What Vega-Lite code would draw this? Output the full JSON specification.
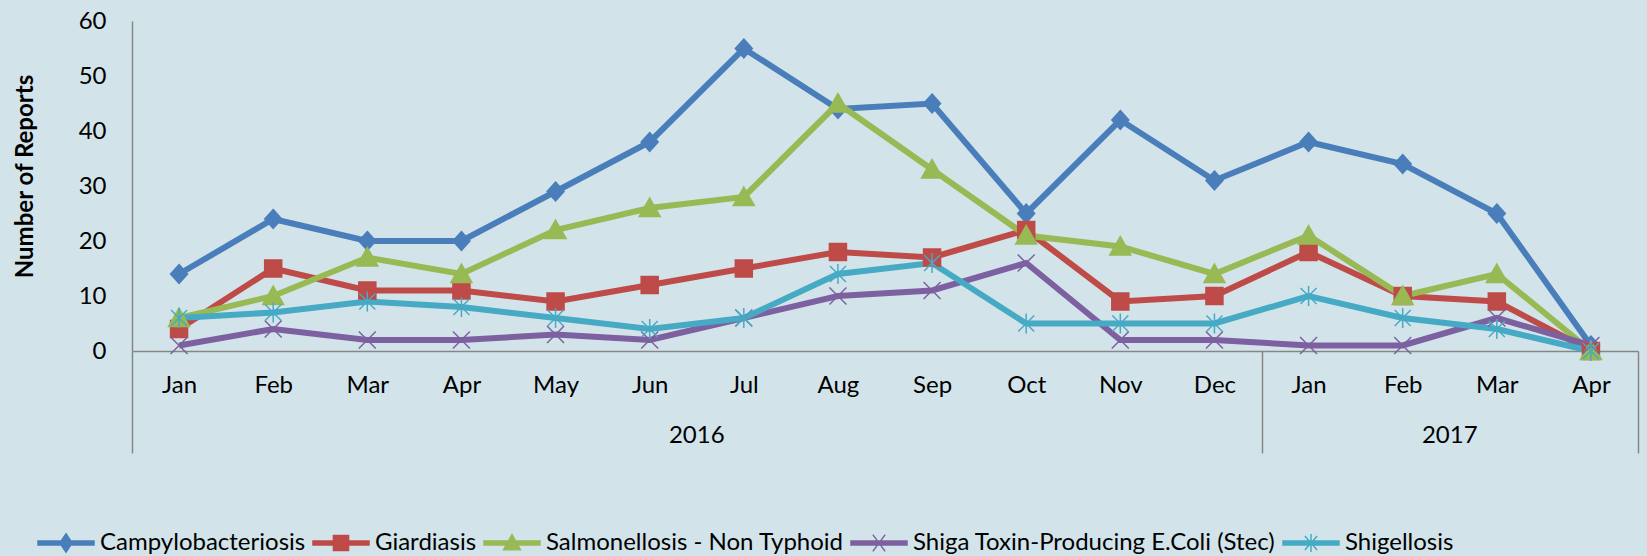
{
"$schema":"https://vega.github.io/schema/vega-lite/v6.json",
"width":1506,"height":330,
"autosize":"none",
"padding":{"left":132,"top":21,"right":9,"bottom":205},
"background":"#d2e4ea",
"config":{"view":{"stroke":null},"font":"Lato","text":{"font":"Lato"}},
"data":{"values":[
{"p":"2016 Jan","s":"Campylobacteriosis","v":14},{"p":"2016 Feb","s":"Campylobacteriosis","v":24},{"p":"2016 Mar","s":"Campylobacteriosis","v":20},{"p":"2016 Apr","s":"Campylobacteriosis","v":20},{"p":"2016 May","s":"Campylobacteriosis","v":29},{"p":"2016 Jun","s":"Campylobacteriosis","v":38},{"p":"2016 Jul","s":"Campylobacteriosis","v":55},{"p":"2016 Aug","s":"Campylobacteriosis","v":44},{"p":"2016 Sep","s":"Campylobacteriosis","v":45},{"p":"2016 Oct","s":"Campylobacteriosis","v":25},{"p":"2016 Nov","s":"Campylobacteriosis","v":42},{"p":"2016 Dec","s":"Campylobacteriosis","v":31},{"p":"2017 Jan","s":"Campylobacteriosis","v":38},{"p":"2017 Feb","s":"Campylobacteriosis","v":34},{"p":"2017 Mar","s":"Campylobacteriosis","v":25},{"p":"2017 Apr","s":"Campylobacteriosis","v":1},
{"p":"2016 Jan","s":"Giardiasis","v":4},{"p":"2016 Feb","s":"Giardiasis","v":15},{"p":"2016 Mar","s":"Giardiasis","v":11},{"p":"2016 Apr","s":"Giardiasis","v":11},{"p":"2016 May","s":"Giardiasis","v":9},{"p":"2016 Jun","s":"Giardiasis","v":12},{"p":"2016 Jul","s":"Giardiasis","v":15},{"p":"2016 Aug","s":"Giardiasis","v":18},{"p":"2016 Sep","s":"Giardiasis","v":17},{"p":"2016 Oct","s":"Giardiasis","v":22},{"p":"2016 Nov","s":"Giardiasis","v":9},{"p":"2016 Dec","s":"Giardiasis","v":10},{"p":"2017 Jan","s":"Giardiasis","v":18},{"p":"2017 Feb","s":"Giardiasis","v":10},{"p":"2017 Mar","s":"Giardiasis","v":9},{"p":"2017 Apr","s":"Giardiasis","v":0},
{"p":"2016 Jan","s":"Salmonellosis - Non Typhoid","v":6},{"p":"2016 Feb","s":"Salmonellosis - Non Typhoid","v":10},{"p":"2016 Mar","s":"Salmonellosis - Non Typhoid","v":17},{"p":"2016 Apr","s":"Salmonellosis - Non Typhoid","v":14},{"p":"2016 May","s":"Salmonellosis - Non Typhoid","v":22},{"p":"2016 Jun","s":"Salmonellosis - Non Typhoid","v":26},{"p":"2016 Jul","s":"Salmonellosis - Non Typhoid","v":28},{"p":"2016 Aug","s":"Salmonellosis - Non Typhoid","v":45},{"p":"2016 Sep","s":"Salmonellosis - Non Typhoid","v":33},{"p":"2016 Oct","s":"Salmonellosis - Non Typhoid","v":21},{"p":"2016 Nov","s":"Salmonellosis - Non Typhoid","v":19},{"p":"2016 Dec","s":"Salmonellosis - Non Typhoid","v":14},{"p":"2017 Jan","s":"Salmonellosis - Non Typhoid","v":21},{"p":"2017 Feb","s":"Salmonellosis - Non Typhoid","v":10},{"p":"2017 Mar","s":"Salmonellosis - Non Typhoid","v":14},{"p":"2017 Apr","s":"Salmonellosis - Non Typhoid","v":0},
{"p":"2016 Jan","s":"Shiga Toxin-Producing E.Coli (Stec)","v":1},{"p":"2016 Feb","s":"Shiga Toxin-Producing E.Coli (Stec)","v":4},{"p":"2016 Mar","s":"Shiga Toxin-Producing E.Coli (Stec)","v":2},{"p":"2016 Apr","s":"Shiga Toxin-Producing E.Coli (Stec)","v":2},{"p":"2016 May","s":"Shiga Toxin-Producing E.Coli (Stec)","v":3},{"p":"2016 Jun","s":"Shiga Toxin-Producing E.Coli (Stec)","v":2},{"p":"2016 Jul","s":"Shiga Toxin-Producing E.Coli (Stec)","v":6},{"p":"2016 Aug","s":"Shiga Toxin-Producing E.Coli (Stec)","v":10},{"p":"2016 Sep","s":"Shiga Toxin-Producing E.Coli (Stec)","v":11},{"p":"2016 Oct","s":"Shiga Toxin-Producing E.Coli (Stec)","v":16},{"p":"2016 Nov","s":"Shiga Toxin-Producing E.Coli (Stec)","v":2},{"p":"2016 Dec","s":"Shiga Toxin-Producing E.Coli (Stec)","v":2},{"p":"2017 Jan","s":"Shiga Toxin-Producing E.Coli (Stec)","v":1},{"p":"2017 Feb","s":"Shiga Toxin-Producing E.Coli (Stec)","v":1},{"p":"2017 Mar","s":"Shiga Toxin-Producing E.Coli (Stec)","v":6},{"p":"2017 Apr","s":"Shiga Toxin-Producing E.Coli (Stec)","v":1},
{"p":"2016 Jan","s":"Shigellosis","v":6},{"p":"2016 Feb","s":"Shigellosis","v":7},{"p":"2016 Mar","s":"Shigellosis","v":9},{"p":"2016 Apr","s":"Shigellosis","v":8},{"p":"2016 May","s":"Shigellosis","v":6},{"p":"2016 Jun","s":"Shigellosis","v":4},{"p":"2016 Jul","s":"Shigellosis","v":6},{"p":"2016 Aug","s":"Shigellosis","v":14},{"p":"2016 Sep","s":"Shigellosis","v":16},{"p":"2016 Oct","s":"Shigellosis","v":5},{"p":"2016 Nov","s":"Shigellosis","v":5},{"p":"2016 Dec","s":"Shigellosis","v":5},{"p":"2017 Jan","s":"Shigellosis","v":10},{"p":"2017 Feb","s":"Shigellosis","v":6},{"p":"2017 Mar","s":"Shigellosis","v":4},{"p":"2017 Apr","s":"Shigellosis","v":0}
]},
"layer":[
{"layer":[
{"mark":{"type":"line","strokeWidth":6},
"encoding":{
"x":{"field":"p","type":"ordinal","scale":{"type":"point","padding":0.5,"domain":["2016 Jan","2016 Feb","2016 Mar","2016 Apr","2016 May","2016 Jun","2016 Jul","2016 Aug","2016 Sep","2016 Oct","2016 Nov","2016 Dec","2017 Jan","2017 Feb","2017 Mar","2017 Apr"]},
"axis":{"title":null,"labelExpr":"split(datum.label,' ')[1]","ticks":false,"grid":false,"domainColor":"#868686","domainWidth":1.5,"labelPadding":22,"labelFontSize":24,"labelFont":"Lato","labelColor":"#000","labelAngle":0}},
"y":{"field":"v","type":"quantitative","scale":{"domain":[0,60],"nice":false},
"axis":{"title":"Number of Reports","values":[0,10,20,30,40,50,60],"ticks":false,"grid":false,"domainColor":"#868686","domainWidth":1.5,"labelPadding":26,"labelFontSize":24,"labelFont":"Lato","labelColor":"#000","titleFont":"Lato","titleFontSize":24,"titleFontWeight":"bold","titleColor":"#000","titlePadding":41,"titleY":155}},
"color":{"field":"s","type":"nominal","scale":{"domain":["Campylobacteriosis","Giardiasis","Salmonellosis - Non Typhoid","Shiga Toxin-Producing E.Coli (Stec)","Shigellosis"],"range":["#4a7ebb","#be4b48","#98b954","#7d60a0","#46aac5"]}}
}},
{"transform":[{"filter":{"field":"s","equal":"Campylobacteriosis"}}],
"mark":{"type":"point","filled":true,"size":400,"shape":"M0,-0.95L0.85,0L0,0.95L-0.85,0Z","color":"#4a7ebb","stroke":"#4a7ebb","strokeWidth":1.5,"opacity":1},
"encoding":{"x":{"field":"p","type":"ordinal"},"y":{"field":"v","type":"quantitative"}}},
{"transform":[{"filter":{"field":"s","equal":"Giardiasis"}}],
"mark":{"type":"point","filled":true,"size":400,"shape":"M-0.85,-0.85H0.85V0.85H-0.85Z","color":"#be4b48","stroke":"#be4b48","strokeWidth":1.5,"opacity":1},
"encoding":{"x":{"field":"p","type":"ordinal"},"y":{"field":"v","type":"quantitative"}}},
{"transform":[{"filter":{"field":"s","equal":"Salmonellosis - Non Typhoid"}}],
"mark":{"type":"point","filled":true,"size":400,"shape":"M0,-1L1.05,0.85H-1.05Z","color":"#98b954","stroke":"#98b954","strokeWidth":1.5,"opacity":1},
"encoding":{"x":{"field":"p","type":"ordinal"},"y":{"field":"v","type":"quantitative"}}},
{"transform":[{"filter":{"field":"s","equal":"Shiga Toxin-Producing E.Coli (Stec)"}}],
"mark":{"type":"point","filled":true,"size":400,"shape":"M-0.85,-0.85L0.85,0.85M-0.85,0.85L0.85,-0.85","color":"#7d60a0","stroke":"#7d60a0","strokeWidth":1.5,"opacity":1},
"encoding":{"x":{"field":"p","type":"ordinal"},"y":{"field":"v","type":"quantitative"}}},
{"transform":[{"filter":{"field":"s","equal":"Shigellosis"}}],
"mark":{"type":"point","filled":true,"size":400,"shape":"M-0.8,-0.8L0.8,0.8M-0.8,0.8L0.8,-0.8M0,-1V1","color":"#46aac5","stroke":"#46aac5","strokeWidth":1.5,"opacity":1},
"encoding":{"x":{"field":"p","type":"ordinal"},"y":{"field":"v","type":"quantitative"}}},
{"mark":{"type":"point","filled":true,"size":0,"strokeWidth":1.5,"opacity":1},
"encoding":{
"x":{"field":"p","type":"ordinal"},
"y":{"field":"v","type":"quantitative"},
"color":{"field":"s","type":"nominal","legend":{"title":null,"orient":"none","legendX":-95,"legendY":493,"direction":"horizontal","gridAlign":"none","symbolSize":3136,"symbolStrokeWidth":1.5,"labelFont":"Lato","labelFontSize":24,"labelColor":"#000","labelOffset":5,"columnPadding":4,"labelLimit":600}},
"shape":{"field":"s","type":"nominal","scale":{"domain":["Campylobacteriosis","Giardiasis","Salmonellosis - Non Typhoid","Shiga Toxin-Producing E.Coli (Stec)","Shigellosis"],"range":["M-1,-0.07H1V0.07H-1ZM0,-0.33L0.22,0L0,0.33L-0.22,0Z","M-1,-0.07H1V0.07H-1ZM-0.27,-0.27H0.27V0.27H-0.27Z","M-1,-0.07H1V0.07H-1ZM0,-0.3L0.3,0.24H-0.3Z","M-1,-0.07H1V0.07H-1ZM-0.22,-0.3L0.22,0.3M-0.22,0.3L0.22,-0.3","M-1,-0.07H1V0.07H-1ZM-0.22,-0.25L0.22,0.25M-0.22,0.25L0.22,-0.25M0,-0.32V0.32"]}},
"stroke":{"field":"s","type":"nominal","scale":{"domain":["Campylobacteriosis","Giardiasis","Salmonellosis - Non Typhoid","Shiga Toxin-Producing E.Coli (Stec)","Shigellosis"],"range":["#4a7ebb","#be4b48","#98b954","#7d60a0","#46aac5"]}}
}}
]},
{"data":{"values":[{"year":"2016","mid":6},{"year":"2017","mid":14}]},
"mark":{"type":"text","fontSize":24,"dy":85,"baseline":"middle","align":"center","color":"#000","font":"Lato"},
"encoding":{
"x":{"field":"mid","type":"quantitative","scale":{"domain":[0,16],"nice":false,"zero":false},"axis":{"values":[0,12,16],"labels":false,"domain":false,"grid":false,"ticks":true,"tickSize":102,"tickColor":"#868686","tickWidth":1.5,"title":null,"orient":"bottom"}},
"y":{"datum":0,"type":"quantitative"},
"text":{"field":"year"}
}}
],
"resolve":{"scale":{"x":"independent"},"axis":{"x":"independent"}}
}
